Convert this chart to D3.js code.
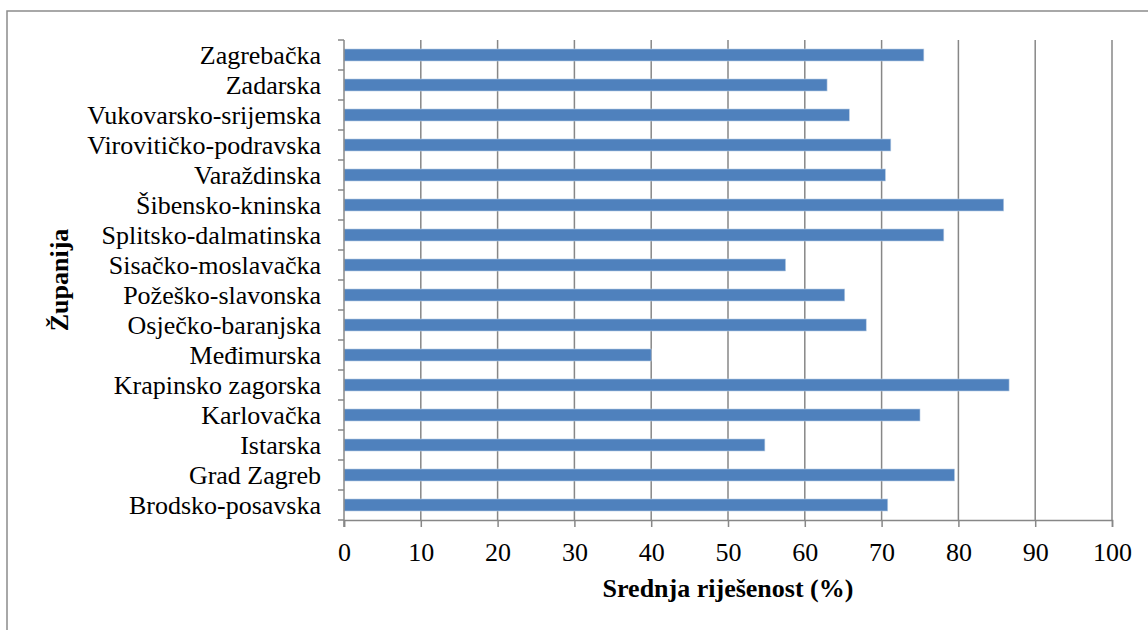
<!DOCTYPE html>
<html>
<head>
<meta charset="utf-8">
<script src="https://cdn.jsdelivr.net/npm/d3@7"></script>
<style>
  body { margin: 0; background: #fff; }
  svg { display: block; }
  text { font-family: "Liberation Serif", "Times New Roman", serif; fill: #000; }
</style>
</head>
<body>
<div class="viz"></div>
<script>
// counties, bottom to top as in the chart
var counties = ["Brodsko-posavska", "Grad Zagreb", "Istarska", "Karlovačka", "Krapinsko zagorska",
    "Međimurska", "Osječko-baranjska", "Požeško-slavonska", "Sisačko-moslavačka", "Splitsko-dalmatinska",
    "Šibensko-kninska", "Varaždinska", "Virovitičko-podravska", "Vukovarsko-srijemska", "Zadarska", "Zagrebačka"];
var values = [70.8, 79.5, 54.8, 75.0, 86.6, 40.0, 68.0, 65.2, 57.5, 78.1, 85.9, 70.5, 71.2, 65.8, 62.9, 75.5];
var ticks = [0, 10, 20, 30, 40, 50, 60, 70, 80, 90, 100];

var w = 1148;
var h = 630;
var plotLeft = 344, plotRight = 1112, plotTop = 40, plotBottom = 520;
var barcolor = "#4F81BD";
var gridcolor = "#878787";

var svg = d3.select(".viz")
    .append("svg")
    .attr("width", w)
    .attr("height", h);

// chart frame (only top and left edges are visible)
svg.append("rect")
    .attr("x", 7)
    .attr("y", 11)
    .attr("width", w + 20)
    .attr("height", h + 20)
    .attr("fill", "none")
    .attr("stroke", "#8c8c8c")
    .attr("stroke-width", 1.5);

var xScale = d3.scaleLinear()
    .domain([0, 100])
    .range([plotLeft, plotRight]);

var yScale = d3.scaleBand()
    .domain(counties.slice().reverse())
    .range([plotTop, plotBottom])
    .paddingInner(0.6)
    .paddingOuter(0.3);

// vertical gridlines
svg.selectAll(".grid")
    .data(ticks.slice(1))
    .enter()
    .append("line")
    .attr("class", "grid")
    .attr("x1", function(d) { return xScale(d); })
    .attr("x2", function(d) { return xScale(d); })
    .attr("y1", plotTop)
    .attr("y2", plotBottom)
    .attr("stroke", gridcolor)
    .attr("stroke-width", 1.5);

// bars
svg.selectAll(".bar")
    .data(values)
    .enter()
    .append("rect")
    .attr("class", "bar")
    .attr("x", xScale(0))
    .attr("y", function(d, i) { return yScale(counties[i]); })
    .attr("width", function(d) { return xScale(d) - xScale(0); })
    .attr("height", yScale.bandwidth())
    .attr("fill", barcolor)
    .attr("stroke", "#b9cde5")
    .attr("stroke-width", 0.6);

// x axis
var xAxis = d3.axisBottom(xScale)
    .tickValues(ticks)
    .tickSize(7)
    .tickPadding(16);

var gx = svg.append("g")
    .attr("transform", "translate(0," + plotBottom + ")")
    .call(xAxis);
gx.select(".domain").attr("stroke", gridcolor).attr("stroke-width", 1.5);
gx.selectAll(".tick line").attr("stroke", gridcolor).attr("stroke-width", 1.5);
gx.selectAll(".tick text")
    .attr("font-size", "26px")
    .attr("font-family", "Liberation Serif")
    .attr("fill", "#000");

// y axis: ticks on band edges like Excel, labels at band centres
var gy = svg.append("g");
gy.append("line")
    .attr("x1", plotLeft).attr("x2", plotLeft)
    .attr("y1", plotTop).attr("y2", plotBottom + 7)
    .attr("stroke", gridcolor)
    .attr("stroke-width", 1.5);

var edges = d3.range(counties.length + 1);
gy.selectAll(".ytick")
    .data(edges)
    .enter()
    .append("line")
    .attr("class", "ytick")
    .attr("x1", plotLeft - 6)
    .attr("x2", plotLeft)
    .attr("y1", function(d) { return plotTop + d * yScale.step(); })
    .attr("y2", function(d) { return plotTop + d * yScale.step(); })
    .attr("stroke", gridcolor)
    .attr("stroke-width", 1.5);

gy.selectAll(".ylabel")
    .data(counties)
    .enter()
    .append("text")
    .attr("class", "ylabel")
    .attr("x", plotLeft - 23)
    .attr("y", function(d) { return yScale(d) + yScale.bandwidth() / 2; })
    .attr("dy", "0.36em")
    .attr("text-anchor", "end")
    .attr("font-size", "26px")
    .text(function(d) { return d; });

//// AXIS TITLES ////
svg.append("text")
    .attr("x", (plotLeft + plotRight) / 2)
    .attr("y", 597)
    .attr("text-anchor", "middle")
    .attr("font-size", "26px")
    .attr("font-weight", "bold")
    .text("Srednja riješenost (%)");

svg.append("text")
    .attr("transform", "translate(68," + ((plotTop + plotBottom) / 2) + ") rotate(-90)")
    .attr("text-anchor", "middle")
    .attr("font-size", "26px")
    .attr("font-weight", "bold")
    .text("Županija");
</script>
</body>
</html>
